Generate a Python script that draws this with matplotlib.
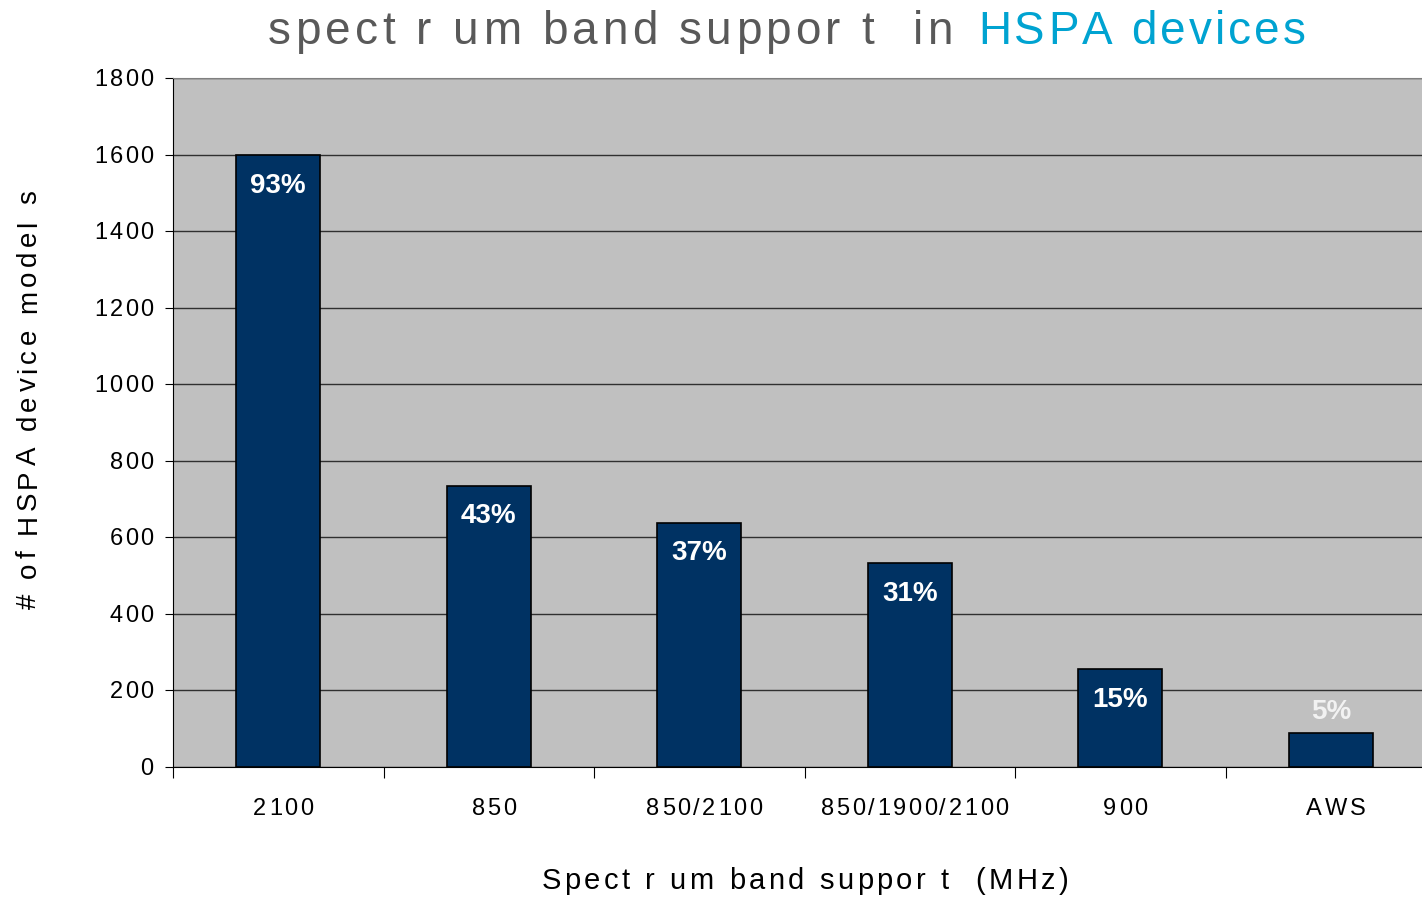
import numpy as np
import matplotlib
matplotlib.use("Agg")
import matplotlib.pyplot as plt
from matplotlib.font_manager import FontProperties, findfont, get_font

bands = ["2100", "850", "850/2100", "850/1900/2100", "900", "AWS"]
models = [1598, 735, 638, 533, 256, 90]
shares = ["93%", "43%", "37%", "31%", "15%", "5%"]
yticks = [0, 200, 400, 600, 800, 1000, 1200, 1400, 1600, 1800]

W, H, DPI = 1422, 899, 100
FAMILY = "Liberation Sans"
plt.rcParams["font.family"] = [FAMILY, "DejaVu Sans"]

fig = plt.figure(figsize=(W / DPI, H / DPI), dpi=DPI, facecolor="w")


def advances(s, size, weight="normal"):
    font = get_font(findfont(FontProperties(family=FAMILY, weight=weight)))
    font.set_size(size, DPI)
    return [font.load_char(ord(c)).linearHoriAdvance / 65536 for c in s]


def spaced_text(x, y, s, size, track, color="black", ha="left",
                rotation=0, weight="normal"):
    """Letter-spaced text; x, y are figure pixels (from bottom-left), y = baseline."""
    adv = advances(s, size, weight)
    total = sum(adv) + track * (len(s) - 1)
    pos = {"left": 0.0, "center": -total / 2, "right": -total}[ha]
    for c, a in zip(s, adv):
        if rotation == 90:
            px, py = x, y + pos
        else:
            px, py = x + pos, y
        fig.text(px / W, py / H, c, fontsize=size, color=color, weight=weight,
                 rotation=rotation, rotation_mode="anchor",
                 ha="left", va="baseline")
        pos += a + track
    return pos


ax = fig.add_axes([173 / W, 132 / H, 1263 / W, 689 / H])
ax.set_facecolor("#C0C0C0")

x = np.arange(len(bands))
ax.bar(x, models, width=0.4, color="#003263", edgecolor="black",
       linewidth=1.2, zorder=3)

for xi, v, s in zip(x, models, shares):
    inside = v > 200
    ax.annotate(s, (xi, v), xytext=(0, -22 if inside else 15),
                textcoords="offset points", ha="center", va="center",
                color="white" if inside else "#F2F2F2", fontsize=20,
                fontweight="bold", zorder=4)

ax.set_xlim(-0.5, len(bands) - 0.5)
ax.set_ylim(0, 1800)
ax.set_yticks(yticks)
ax.set_yticklabels([])
ax.yaxis.grid(True, color="#303030", linewidth=1.0, zorder=1)
ax.tick_params(axis="y", direction="out", length=6)

# category boundaries carry the tick marks
ax.set_xticks(np.arange(-0.5, len(bands), 1.0))
ax.set_xticklabels([])
ax.tick_params(axis="x", direction="out", length=8)

ax.spines["right"].set_visible(False)
ax.spines["top"].set_color("#808080")
ax.spines["left"].set_color("black")
ax.spines["bottom"].set_color("black")

# tick labels, letter-spaced like the original
for v in yticks:
    _, py = ax.transData.transform((-0.5, v))
    spaced_text(153, py - 8, str(v), 17, 2, ha="right")
for xi, b in zip(x, bands):
    px, _ = ax.transData.transform((xi, 0))
    spaced_text(px + 5, 84, b, 17, 2.5, ha="center")

# axis titles
spaced_text(36, 499, "# of HSPA device model s", 20, 4.2, ha="center",
            rotation=90)
spaced_text(805, 10, "Spect r um band suppor t  (MHz)", 21, 3.5, ha="center")

# chart title in two colours
spaced_text(268, 855, "spect r um band suppor t  in", 33, 4.3, color="#595959")
spaced_text(978, 855, "HSPA devices", 33, 3.1, color="#00A3D1")

fig.savefig("out.png", dpi=DPI, facecolor="w")
